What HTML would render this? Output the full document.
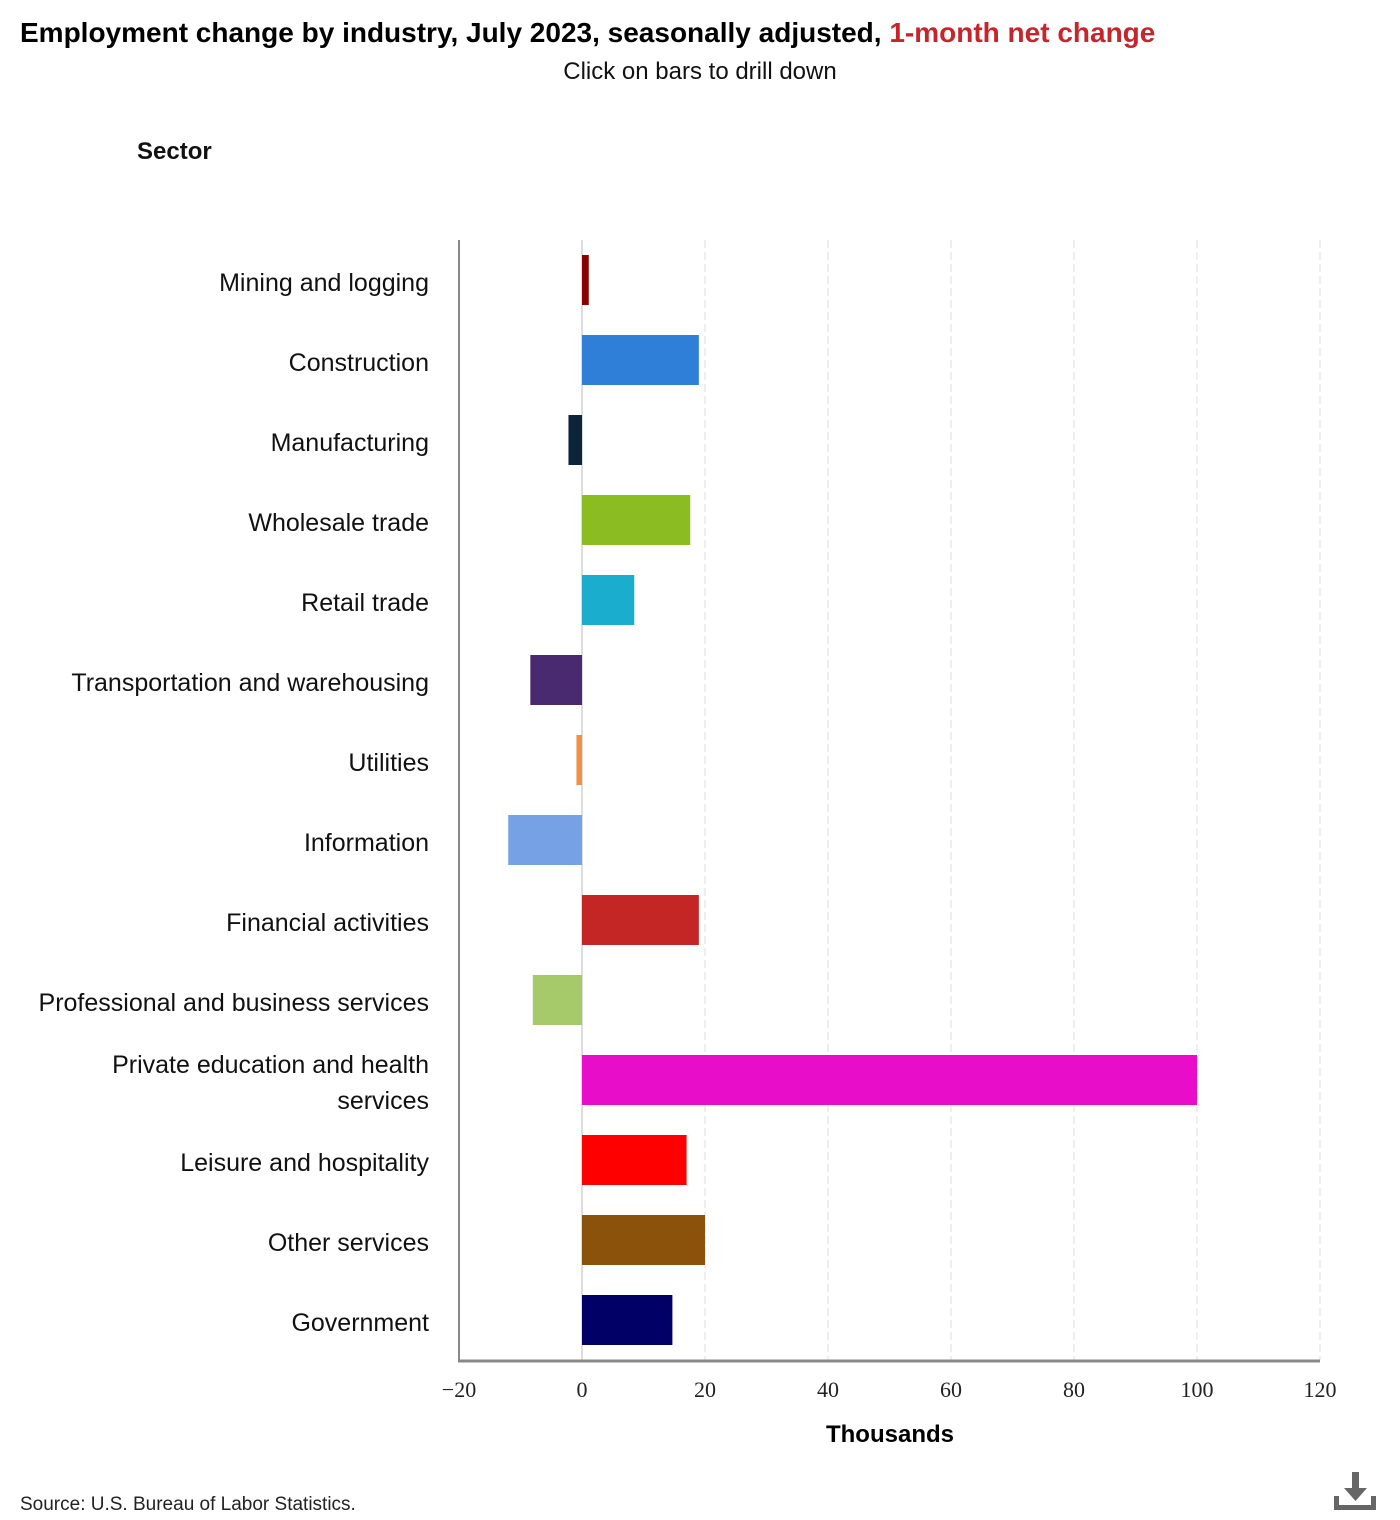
<!DOCTYPE html>
<html><head><meta charset="utf-8"><style>
body{margin:0;width:1400px;height:1520px;background:#fff;font-family:"Liberation Sans",sans-serif;overflow:hidden}
svg{position:absolute;left:0;top:0}
</style></head><body>
<svg width="1400" height="1520" id="chart">
<text x="20" y="42" font-size="28" font-weight="bold" fill="#000">Employment change by industry, July 2023, seasonally adjusted, <tspan fill="#c4262e">1-month net change</tspan></text>
<text x="700" y="79" font-size="24" text-anchor="middle" fill="#111">Click on bars to drill down</text>
<text x="137" y="159" font-size="24" font-weight="bold" fill="#111">Sector</text>
<g id="grid"></g>
<g id="bars"></g>
<g id="labels"></g>
<line x1="459" y1="240" x2="459" y2="1361" stroke="#888" stroke-width="2"/>
<line x1="458" y1="1361" x2="1320" y2="1361" stroke="#888" stroke-width="3"/>
<text x="890" y="1442" font-size="24" font-weight="bold" text-anchor="middle" fill="#000">Thousands</text>
<text x="20" y="1510" font-size="19" fill="#222">Source: U.S. Bureau of Labor Statistics.</text>
<g fill="#666">
<rect x="1352" y="1472" width="7" height="18"/><polygon points="1344,1488 1367,1488 1355.5,1501"/>
<rect x="1334" y="1505" width="42" height="5"/><rect x="1334" y="1496" width="5" height="12"/><rect x="1371" y="1496" width="5" height="12"/>
</g>
</svg>
<script>
const categories=["Mining and logging","Construction","Manufacturing","Wholesale trade","Retail trade","Transportation and warehousing","Utilities","Information","Financial activities","Professional and business services","Private education and health|services","Leisure and hospitality","Other services","Government"];
const values=[1.1,19,-2.2,17.6,8.5,-8.4,-0.9,-12,19,-8,100,17,20,14.7];
const colors=["#8b0000","#2f7ed8","#0d233a","#8bbc21","#1aadce","#492970","#f28f43","#77a1e5","#c42525","#a6c96a","#e80ec9","#ff0000","#8b520c","#000066"];
const ticks=[-20,0,20,40,60,80,100,120];
const NS="http://www.w3.org/2000/svg";
const x0=-20,x1=120,px0=459,px1=1320;
function xs(v){return px0+(v-x0)/(x1-x0)*(px1-px0);}
const plotTop=240,rowH=80;
function ys(i){return plotTop+rowH*i+rowH/2;}
function mk(t,a,p){const e=document.createElementNS(NS,t);for(const k in a)e.setAttribute(k,a[k]);p.appendChild(e);return e;}
const grid=document.getElementById('grid'),bars=document.getElementById('bars'),labels=document.getElementById('labels');
ticks.forEach(t=>{
  if(t!==x0){const l=mk('line',{x1:xs(t),x2:xs(t),y1:plotTop,y2:1360,stroke:t===0?'#bbb':'#ddd','stroke-width':1,'stroke-dasharray':t===0?'none':'8,4'},grid);
  
  }
  const tx=mk('text',{x:xs(t),y:1397,'font-size':22,'text-anchor':'middle',fill:'#222','font-family':'Liberation Serif, serif'},labels);
  tx.textContent=(t<0?'\u2212'+(-t):String(t));
  
  
});
categories.forEach((c,i)=>{
  const v=values[i],a=xs(Math.min(0,v)),b=xs(Math.max(0,v));
  const r=mk('rect',{x:a,y:ys(i)-25,width:Math.max(b-a,1),height:50,fill:colors[i]},bars);
  
  
  const parts=c.split('|');
  const t=mk('text',{x:429,'font-size':25,'text-anchor':'end',fill:'#111'},labels);
  
  
  parts.forEach((p,k)=>{const ts=mk('tspan',{x:429,y:ys(i)+11+(parts.length>1?(k-0.5)*36:0)},t);ts.textContent=p;});
});
</script>
</body></html>
